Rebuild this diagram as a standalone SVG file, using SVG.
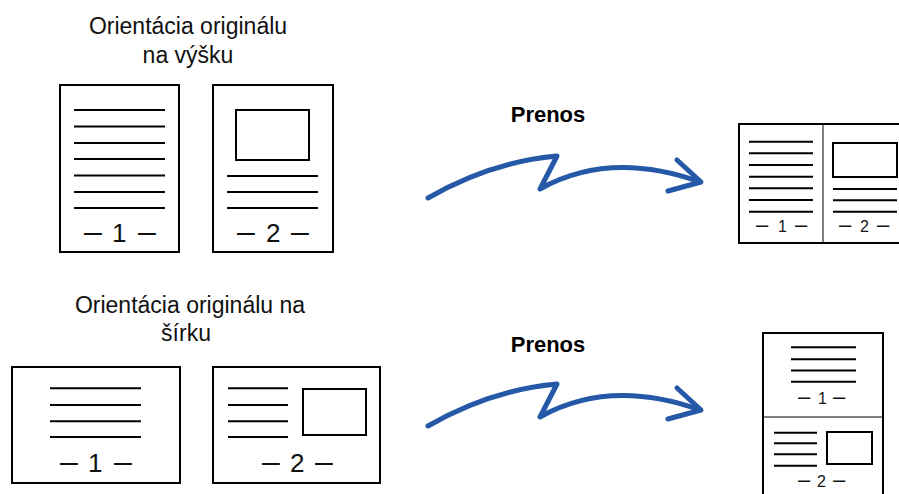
<svg xmlns="http://www.w3.org/2000/svg" width="899" height="494" viewBox="0 0 899 494">
<style>
  .pg { fill: #fff; stroke: #000; stroke-width: 2; }
  .ln { stroke: #000; stroke-width: 2; fill: none; }
  .sln { stroke: #000; stroke-width: 2; fill: none; }
  .div { stroke: #000; stroke-width: 1; }
  .t { font-family: "Liberation Sans", Arial, sans-serif; fill: #111; }
  .title { font-size: 23px; text-anchor: middle; }
  .bold { font-size: 22px; font-weight: bold; text-anchor: middle; fill: #000; }
  .num { font-size: 26px; }
  .dash { font-size: 32px; }
  .snum { font-size: 16px; }
  .sdash { font-size: 22px; }
  .arr { fill: none; stroke: #2559a7; stroke-width: 5; stroke-linecap: round; stroke-linejoin: round; }
</style>
<rect width="899" height="494" fill="#fff"/>

<g id="title-portrait">
  <text class="t title" x="188" y="34">Orientácia originálu</text>
  <text class="t title" x="188" y="63">na výšku</text>
</g>

<g id="portrait-page-1">
  <rect class="pg" x="60" y="85" width="119" height="167"/>
  <path class="ln" d="M74,110H165M74,126.5H165M74,143H165M74,159H165M74,175.5H165M74,192H165M74,208H165"/>
  <text class="t" y="242"><tspan class="dash" x="84">– </tspan><tspan class="num" x="112">1 </tspan><tspan class="dash" x="138">–</tspan></text>
</g>

<g id="portrait-page-2">
  <rect class="pg" x="213" y="85" width="120" height="167"/>
  <rect class="pg" x="236" y="110" width="73" height="50"/>
  <path class="ln" d="M227,176H318M227,192H318M227,208H318"/>
  <text class="t" y="242"><tspan class="dash" x="237">– </tspan><tspan class="num" x="266">2 </tspan><tspan class="dash" x="291">–</tspan></text>
</g>

<g id="label-prenos-1">
  <text class="t bold" x="548" y="122">Prenos</text>
</g>

<g id="output-portrait">
  <rect class="pg" x="739" y="124" width="168" height="119"/>
  <line class="div" x1="823" y1="124" x2="823" y2="243"/>
  <path class="sln" d="M749,141.7H813M749,153.3H813M749,165H813M749,176.7H813M749,188.3H813M749,200H813M749,211.7H813"/>
  <rect class="pg" x="833" y="143" width="64" height="34"/>
  <path class="sln" d="M833,189H897M833,200.3H897M833,211.7H897"/>
  <text class="t" y="232"><tspan class="sdash" x="756">– </tspan><tspan class="snum" x="778">1 </tspan><tspan class="sdash" x="795">–</tspan></text>
  <text class="t" y="232"><tspan class="sdash" x="839">– </tspan><tspan class="snum" x="860">2 </tspan><tspan class="sdash" x="877">–</tspan></text>
</g>

<g id="title-landscape">
  <text class="t title" x="190" y="313">Orientácia originálu na</text>
  <text class="t title" x="186" y="341">šírku</text>
</g>

<g id="landscape-page-1">
  <rect class="pg" x="12" y="367" width="168" height="116"/>
  <path class="ln" d="M50,388.3H141M50,405H141M50,421.3H141M50,437H141"/>
  <text class="t" y="472"><tspan class="dash" x="60">– </tspan><tspan class="num" x="88">1 </tspan><tspan class="dash" x="114">–</tspan></text>
</g>

<g id="landscape-page-2">
  <rect class="pg" x="213" y="367" width="167" height="116"/>
  <path class="ln" d="M228,388.3H288M228,405H288M228,421.3H288M228,437H288"/>
  <rect class="pg" x="303" y="389" width="63" height="46"/>
  <text class="t" y="472"><tspan class="dash" x="262">– </tspan><tspan class="num" x="290">2 </tspan><tspan class="dash" x="315">–</tspan></text>
</g>

<g id="label-prenos-2">
  <text class="t bold" x="548" y="352">Prenos</text>
</g>

<g id="output-landscape">
  <rect class="pg" x="763" y="333" width="120" height="168"/>
  <line class="div" x1="763" y1="417" x2="883" y2="417"/>
  <path class="sln" d="M791,347.3H856M791,359.3H856M791,370.5H856M791,381.7H856"/>
  <text class="t" y="404"><tspan class="sdash" x="798">– </tspan><tspan class="snum" x="818">1 </tspan><tspan class="sdash" x="833">–</tspan></text>
  <path class="sln" d="M774,432.7H817M774,443.3H817M774,454.3H817M774,465.7H817"/>
  <rect class="pg" x="827" y="432" width="45" height="32"/>
  <text class="t" y="487"><tspan class="sdash" x="798">– </tspan><tspan class="snum" x="817">2 </tspan><tspan class="sdash" x="833">–</tspan></text>
</g>

<g id="connectors">
  <g id="arrow-1">
    <path class="arr" d="M428,198 Q490,162 557,156 L540,189 Q610,150 700,182"/>
    <path class="arr" d="M677,160 L701,182 L668,191"/>
  </g>
  <g id="arrow-2" transform="translate(0,228)">
    <path class="arr" d="M428,198 Q490,162 557,156 L540,189 Q610,150 700,182"/>
    <path class="arr" d="M677,160 L701,182 L668,191"/>
  </g>
</g>
</svg>
